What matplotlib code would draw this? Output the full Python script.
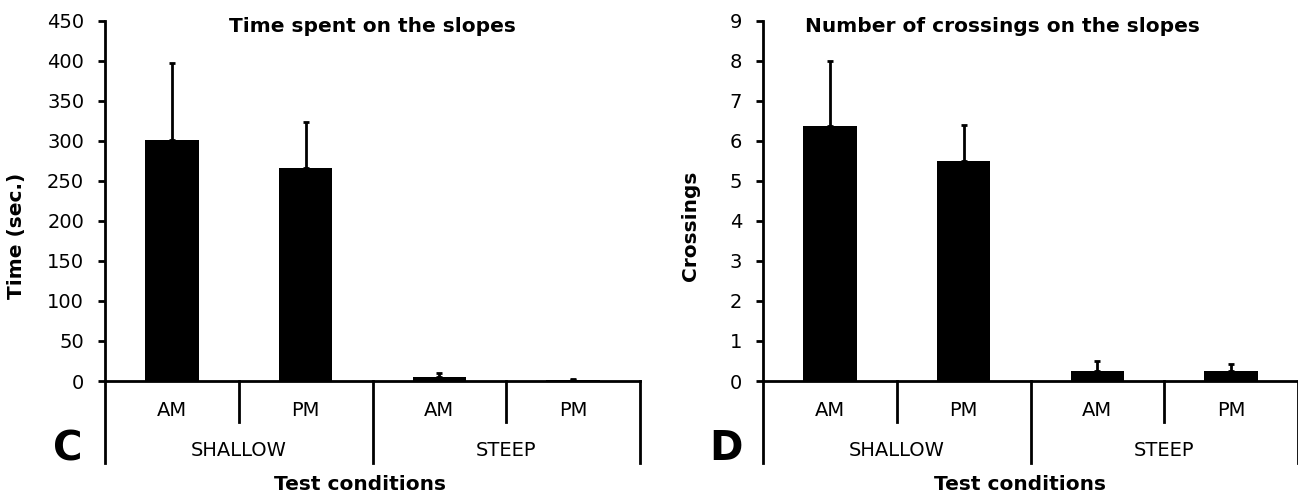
import matplotlib.pyplot as plt
import matplotlib.transforms as mtransforms

# data
cats = ['AM', 'PM', 'AM', 'PM']
groups = ['SHALLOW', 'STEEP']
time_vals = [301, 266, 5, 1]
time_err = [97, 58, 5, 1.5]
cross_vals = [6.37, 5.5, 0.25, 0.25]
cross_err = [1.63, 0.9, 0.25, 0.17]

W, H = 1298, 494
fig = plt.figure(figsize=(W / 100, H / 100), dpi=100)
plt.rcParams['font.family'] = 'DejaVu Sans'


def panel(left_px, vals, errs, ymax, ystep, title, ylabel, letter,
          title_x, ylab_pos, xlab_x):
    ax = fig.add_axes([left_px / W, (H - 381) / H, 535 / W, 360 / H])
    x = list(range(len(vals)))
    ax.bar(x, vals, width=0.4, color='black',
           yerr=[[0] * len(errs), errs], capsize=2.5,
           error_kw=dict(elinewidth=2, capthick=2, ecolor='black'))
    ax.set_xlim(-0.5, 3.5)
    ax.set_ylim(0, ymax)
    ax.set_yticks([i * ystep for i in range(int(round(ymax / ystep)) + 1)])
    ax.tick_params(axis='y', labelsize=14, width=2, length=5, pad=10, direction='out')
    ax.set_xticks([])
    for s in ['top', 'right']:
        ax.spines[s].set_visible(False)
    for s in ['left', 'bottom']:
        ax.spines[s].set_linewidth(2)

    trans = mtransforms.blended_transform_factory(ax.transData, ax.transAxes)
    short = -41 / 360
    long_ = -82 / 360
    for xd in [-0.5, 1.5, 3.5]:
        ax.plot([xd, xd], [0, long_], color='black', lw=2, transform=trans, clip_on=False)
    for xd in [0.5, 2.5]:
        ax.plot([xd, xd], [0, short], color='black', lw=2, transform=trans, clip_on=False)
    for i, c in enumerate(cats):
        ax.text(i, -29 / 360, c, transform=trans, ha='center', va='center', fontsize=14)
    for g, gx in zip(groups, [0.5, 2.5]):
        ax.text(gx, -69 / 360, g, transform=trans, ha='center', va='center', fontsize=14)

    ax.text(xlab_x, -103 / 360, 'Test conditions', transform=ax.transAxes,
            ha='center', va='center', fontsize=14.5, fontweight='bold')
    ax.text(title_x, 0.986, title, transform=ax.transAxes,
            ha='center', va='center', fontsize=14.5, fontweight='bold')
    ax.text(ylab_pos[0], ylab_pos[1], ylabel, transform=ax.transAxes, rotation=90,
            ha='center', va='center', fontsize=14.5, fontweight='bold')
    ax.text(-0.07, -68 / 360, letter, transform=ax.transAxes,
            ha='center', va='center', fontsize=29, fontweight='bold')
    return ax


panel(105, time_vals, time_err, 450, 50, 'Time spent on the slopes',
      'Time (sec.)', 'C', 0.499, (-0.165, 0.403), 0.477)
panel(763, cross_vals, cross_err, 9, 1, 'Number of crossings on the slopes',
      'Crossings', 'D', 0.447, (-0.135, 0.43), 0.48)

fig.savefig('out.png', dpi=100)
